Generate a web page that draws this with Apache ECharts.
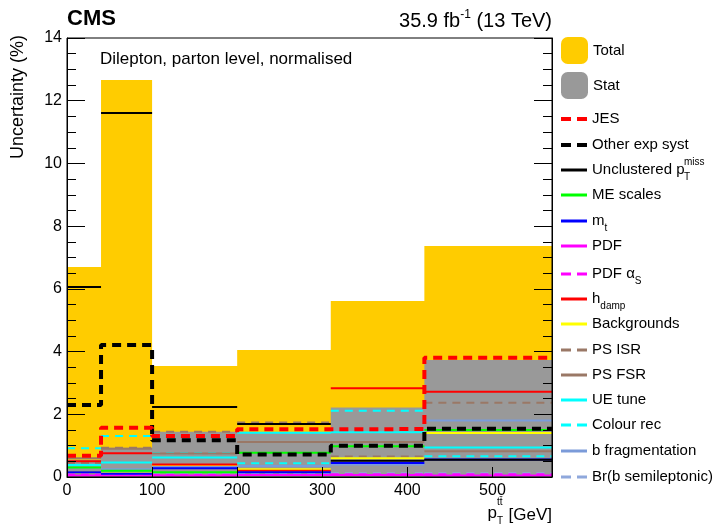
<!DOCTYPE html>
<html>
<head>
<meta charset="utf-8">
<script src="https://cdn.jsdelivr.net/npm/echarts@6/dist/echarts.min.js"></script>
<style>html,body{margin:0;padding:0;background:#fff}#c{width:713px;height:527px}</style>
</head>
<body>
<div id="c"></div>
<script>
// bin edges in GeV
const edges = [0, 40, 100, 200, 310, 420, 570];
const yTicks = [0, 2, 4, 6, 8, 10, 12, 14];
const xTicks = [0, 100, 200, 300, 400, 500];

// uncertainties (%) per bin
const total       = [6.70, 12.66, 3.54, 4.05, 5.61, 7.37];
const stat        = [0.55, 0.93, 1.44, 1.40, 2.22, 3.73];
const jes         = [0.68, 1.57, 1.31, 1.52, 1.53, 3.80];
const otherExp    = [2.30, 4.21, 1.17, 0.72, 1.00, 1.54];
const unclustered = [6.06, 11.61, 2.23, 1.69, 0.52, 0.55];
const meScales    = [0.30, 0.20, 0.15, 0.77, 0.98, 1.50];
const mTop        = [0.15, 0.10, 0.28, 0.15, 0.45, 0.56];
const pdf         = [0.05, 0.05, 0.05, 0.06, 0.06, 0.05];
const pdfAlphaS   = [0.08, 0.06, 0.07, 0.06, 0.09, 0.09];
const hdamp       = [0.50, 0.76, 0.40, 0.20, 2.83, 2.72];
const backgrounds = [0.15, 0.12, 0.38, 0.25, 0.60, 1.40];
const psIsr       = [0.45, 0.93, 1.44, 1.74, 0.65, 2.37];
const psFsr       = [0.60, 0.90, 0.75, 1.12, 1.12, 0.82];
const ueTune      = [0.38, 0.46, 0.62, 1.41, 1.43, 0.94];
const colourRec   = [0.92, 1.31, 0.76, 0.44, 2.11, 0.66];
const bFrag       = [0.30, 0.25, 0.32, 0.35, 0.40, 1.80];
const brSemilep   = [0.10, 0.12, 0.10, 0.10, 0.12, 0.12];

const FONT = '"Liberation Sans", Arial, Helvetica, sans-serif';

function stepData(vals) {
  const pts = vals.map((v, i) => [edges[i], v]);
  pts.push([edges[edges.length - 1], vals[vals.length - 1]]);
  return pts;
}
function segData(vals) {
  const pts = [];
  vals.forEach((v, i) => {
    pts.push([edges[i], v]);
    pts.push([edges[i + 1], v]);
    pts.push([edges[i + 1], '-']);
  });
  return pts;
}

const ICON_SOLID = 'path://M0,0h26v3h-26z';
const ICON_DASH = 'path://M0,0h10v3h-10z M16,0h10v3h-10z';
const ICON_THICK = 'path://M0,0h10v4h-10z M16,0h10v4h-10z';

const lineDefs = [
  {name: 'JES', vals: jes, color: '#ff0000', dash: [9, 6], width: 4, step: true},
  {name: 'Other exp syst', vals: otherExp, color: '#000000', dash: [9, 6], width: 4, step: true},
  {name: 'Unclustered p_T^miss', vals: unclustered, color: '#000000', dash: null, width: 2},
  {name: 'ME scales', vals: meScales, color: '#00ff00', dash: null, width: 2},
  {name: 'm_t', vals: mTop, color: '#0000ff', dash: null, width: 2},
  {name: 'PDF', vals: pdf, color: '#ff00ff', dash: null, width: 2},
  {name: 'PDF alphaS', vals: pdfAlphaS, color: '#ff00ff', dash: [8, 6], width: 2},
  {name: 'h_damp', vals: hdamp, color: '#ff0000', dash: null, width: 2},
  {name: 'Backgrounds', vals: backgrounds, color: '#ffff00', dash: null, width: 2},
  {name: 'PS ISR', vals: psIsr, color: '#9a7866', dash: [8, 6], width: 2},
  {name: 'PS FSR', vals: psFsr, color: '#9a7866', dash: null, width: 2},
  {name: 'UE tune', vals: ueTune, color: '#00ffff', dash: null, width: 2},
  {name: 'Colour rec', vals: colourRec, color: '#00ffff', dash: [8, 6], width: 2},
  {name: 'b fragmentation', vals: bFrag, color: '#7b9bd9', dash: null, width: 2},
  {name: 'Br(b semileptonic)', vals: brSemilep, color: '#8fa8dc', dash: [8, 6], width: 2}
];

const series = [
  {name: 'Total', type: 'line', step: 'end', data: stepData(total), symbol: 'none',
   lineStyle: {width: 0, color: '#ffcc00'}, itemStyle: {color: '#ffcc00'},
   areaStyle: {color: '#ffcc00', opacity: 1}, z: 1, silent: true},
  {name: 'Stat', type: 'line', step: 'end', data: stepData(stat), symbol: 'none',
   lineStyle: {width: 0, color: '#999999'}, itemStyle: {color: '#999999'},
   areaStyle: {color: '#999999', opacity: 1}, z: 2, silent: true}
];
const drawOrder = lineDefs.slice(2).reverse().concat([lineDefs[1], lineDefs[0]]);
drawOrder.forEach(d => {
  series.push({
    name: d.name, type: 'line', symbol: 'none', silent: true,
    step: d.step ? 'end' : false,
    data: d.step ? stepData(d.vals) : segData(d.vals),
    connectNulls: false,
    lineStyle: {color: d.color, width: d.width, type: d.dash || 'solid', cap: 'butt'},
    itemStyle: {color: d.color},
    z: 3
  });
});

const labelMap = {
  'Unclustered p_T^miss': 'Unclustered p',
  'm_t': 'm{sub|t}',
  'PDF alphaS': 'PDF \u03b1{sub|S}',
  'h_damp': 'h{sub|damp}'
};
const legendRich = {
  sub: {fontSize: 10, fontFamily: FONT, color: '#000', verticalAlign: 'bottom', lineHeight: 24}
};
const legendCentersLines = [117, 143, 168, 193, 219, 244, 272, 297, 322, 348, 373, 398, 423, 449, 475];
const legends = [];
['Total', 'Stat'].forEach((n, i) => {
  legends.push({
    data: [{name: n, icon: 'roundRect'}], left: 561, top: [37, 72][i], orient: 'vertical', padding: 0,
    itemWidth: 27, itemHeight: 27, itemGap: 0, selectedMode: false,
    textStyle: {fontSize: 15, fontFamily: FONT, color: '#000', padding: [3, 0, 0, 0]}
  });
});
lineDefs.forEach((d, i) => {
  const icon = d.width > 2 ? ICON_THICK : (d.dash ? ICON_DASH : ICON_SOLID);
  legends.push({
    data: [{name: d.name, icon: icon}], left: 561, top: legendCentersLines[i] - 10, orient: 'vertical', padding: 0,
    itemWidth: 26, itemHeight: d.width > 2 ? 4 : 3, itemGap: 0, selectedMode: false,
    formatter: name => labelMap[name] || name,
    textStyle: {fontSize: 15, fontFamily: FONT, color: '#000', lineHeight: 24, rich: legendRich}
  });
});

const chart = echarts.init(document.getElementById('c'), null, {renderer: 'canvas'});
chart.setOption({
  animation: false,
  backgroundColor: '#fff',
  grid: {left: 67, right: 161, top: 38, bottom: 50, show: true, borderColor: '#000', borderWidth: 1, backgroundColor: 'transparent', z: 10},
  legend: legends,
  xAxis: {
    type: 'value', min: edges[0], max: edges[edges.length - 1], interval: 100,
    axisLine: {show: true, lineStyle: {color: '#000', width: 1}, onZero: false},
    axisTick: {show: true, inside: true, length: 10, lineStyle: {color: '#000'}, customValues: xTicks},
    minorTick: {show: false},
    splitLine: {show: false},
    axisLabel: {fontSize: 16, fontFamily: FONT, color: '#000', margin: 6, customValues: xTicks},
    z: 10
  },
  yAxis: [{
    type: 'value', min: 0, max: 14, interval: 2,
    axisLine: {show: true, lineStyle: {color: '#000', width: 1}},
    axisTick: {show: true, inside: true, length: 18, lineStyle: {color: '#000'}},
    minorTick: {show: true, splitNumber: 4, length: 9, lineStyle: {color: '#000'}},
    splitLine: {show: false},
    axisLabel: {fontSize: 16, fontFamily: FONT, color: '#000', margin: 5, customValues: yTicks},
    z: 10
  }, {
    type: 'value', min: 0, max: 14, interval: 2, position: 'right',
    axisLine: {show: true, lineStyle: {color: '#000', width: 1}},
    axisTick: {show: true, inside: true, length: 18, lineStyle: {color: '#000'}},
    minorTick: {show: true, splitNumber: 4, length: 9, lineStyle: {color: '#000'}},
    splitLine: {show: false},
    axisLabel: {show: false},
    z: 10
  }],
  series: series,
  graphic: [
    {type: 'text', left: 67, top: 8, style: {text: 'CMS', fontSize: 22, fontWeight: 'bold', fontFamily: FONT, fill: '#000'}},
    {type: 'text', x: 552, y: 21, style: {
      text: '35.9 fb{sup|-1} (13 TeV)', fontSize: 20, fontFamily: FONT, fill: '#000', align: 'right', verticalAlign: 'middle',
      rich: {sup: {fontSize: 12, fontFamily: FONT, fill: '#000', verticalAlign: 'top', lineHeight: 25}}, lineHeight: 25}},
    {type: 'text', x: 100, y: 59, style: {text: 'Dilepton, parton level, normalised', fontSize: 17, fontFamily: FONT, fill: '#000', verticalAlign: 'middle'}},
    {type: 'text', x: 9, y: 35, rotation: Math.PI / 2, style: {
      text: 'Uncertainty (%)', fontSize: 18, fontFamily: FONT, fill: '#000', align: 'right', verticalAlign: 'top'}},
    {type: 'text', x: 552, y: 515, style: {text: '[GeV]', fontSize: 17, fontFamily: FONT, fill: '#000', align: 'right', verticalAlign: 'middle'}},
    {type: 'text', x: 497, y: 513, style: {text: 'p', fontSize: 17, fontFamily: FONT, fill: '#000', align: 'right', verticalAlign: 'middle'}},
    {type: 'text', x: 497, y: 521, style: {text: 'T', fontSize: 10, fontFamily: FONT, fill: '#000', align: 'left', verticalAlign: 'middle'}},
    {type: 'text', x: 497, y: 502, style: {text: 'tt\u0304', fontSize: 10, fontFamily: FONT, fill: '#000', align: 'left', verticalAlign: 'middle'}},
    {type: 'text', x: 684, y: 177, style: {text: 'T', fontSize: 10, fontFamily: FONT, fill: '#000', align: 'left', verticalAlign: 'middle'}},
    {type: 'text', x: 684, y: 162, style: {text: 'miss', fontSize: 10, fontFamily: FONT, fill: '#000', align: 'left', verticalAlign: 'middle'}}
  ]
});
</script>
</body>
</html>
